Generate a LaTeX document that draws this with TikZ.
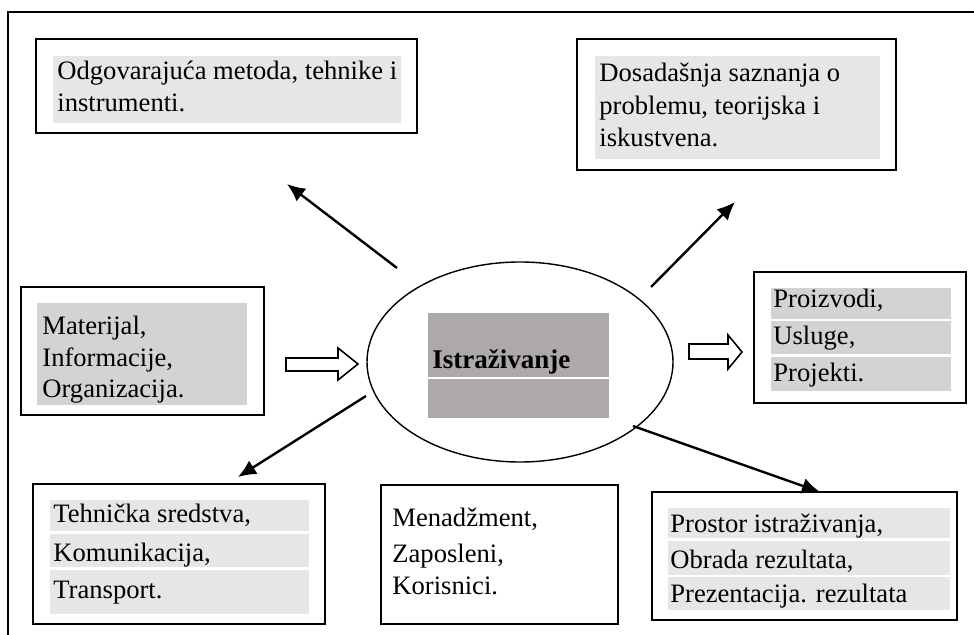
\documentclass[tikz,border=0pt]{standalone}
\usepackage{fontspec}
\setmainfont{Liberation Serif}
\usetikzlibrary{arrows.meta,fit,shapes.geometric}
\definecolor{lgray}{HTML}{E6E6E6}
\definecolor{mgray}{HTML}{D4D2D2}
\definecolor{dgray}{HTML}{ADA9A9}
\begin{document}
\begin{tikzpicture}[x=0.5pt,y=-0.5pt,
  font=\fontsize{13.3pt}{15pt}\selectfont,
  box/.style={draw, line width=1pt, inner sep=0pt},
  txt/.style={anchor=base west, inner sep=0pt},
  conn/.style={-{Latex[length=9pt,width=8pt]}, line width=1.2pt},
  hollow/.style={draw, line width=0.8pt, fill=white}]
\useasboundingbox (0,0) rectangle (974,635);
% frame
\draw[line width=1.1pt] (974,12) -- (8,12) -- (8,635);
% boxes
\node (b1) [box, fit={(36,39) (417,133)}] {};
\node (b2) [box, fit={(577,39) (896,170)}] {};
\node (b3) [box, fit={(21,287) (264,415)}] {};
\node (b4) [box, fit={(754,272) (966,403)}] {};
\node (b5) [box, fit={(33,484) (325,624)}] {};
\node (b6) [box, fit={(381,485) (618,624)}] {};
\node (b7) [box, fit={(652,492) (957,620)}] {};
% gray fills
\fill[lgray] (53,56) rectangle (401,123);
\fill[lgray] (595,56) rectangle (880,159);
\fill[mgray] (37,303) rectangle (247,405);
\fill[mgray] (771,288) rectangle (951,319);
\fill[mgray] (771,321) rectangle (951,354);
\fill[mgray] (771,357) rectangle (951,391);
\fill[lgray] (50,500) rectangle (309,531);
\fill[lgray] (50,534) rectangle (309,567);
\fill[lgray] (50,570) rectangle (309,614);
\fill[lgray] (668,508) rectangle (950,538);
\fill[lgray] (668,541) rectangle (950,575);
\fill[lgray] (668,577) rectangle (950,610);
\fill[dgray] (428,313) rectangle (609,377);
\fill[dgray] (428,379) rectangle (609,418);
% texts
\node (t1a) [txt] at (57,80) {Odgovarajuća metoda, tehnike i};
\node (t1b) [txt] at (57,112) {instrumenti.};
\node (t2a) [txt] at (599,82) {Dosadašnja saznanja o};
\node (t2b) [txt] at (599,115) {problemu, teorijska i};
\node (t2c) [txt] at (599,147) {iskustvena.};
\node (t3a) [txt] at (42,335) {Materijal,};
\node (t3b) [txt] at (42,367) {Informacije,};
\node (t3c) [txt] at (42,398) {Organizacija.};
\node (t4a) [txt] at (773,308) {Proizvodi,};
\node (t4b) [txt] at (773,345) {Usluge,};
\node (t4c) [txt] at (773,382) {Projekti.};
\node (t5a) [txt] at (53,523) {Tehnička sredstva,};
\node (t5b) [txt] at (53,561) {Komunikacija,};
\node (t5c) [txt] at (53,598) {Transport.};
\node (t6a) [txt] at (392,527) {Menadžment,};
\node (t6b) [txt] at (392,562) {Zaposleni,};
\node (t6c) [txt] at (392,595) {Korisnici.};
\node (t7a) [txt] at (670,532) {Prostor istraživanja,};
\node (t7b) [txt] at (670,568) {Obrada rezultata,};
\node (t7c) [txt] at (670,603) {Prezentacija. rezultata};
% center
\node (ell) [draw, ellipse, line width=0.7pt, inner sep=0pt,
  minimum width=153pt, minimum height=100pt] at (520,362) {};
\node (ist) [txt, font=\fontsize{13.5pt}{15pt}\selectfont\bfseries] at (432,369) {Istraživanje};
% hollow arrows
\draw[hollow] (286,358) -- (338,358) -- (338,348) -- (358,364) -- (338,380) -- (338,371) -- (286,371) -- cycle;
\draw[hollow] (689,344) -- (728,344) -- (728,335) -- (742,352) -- (728,369) -- (728,359) -- (689,359) -- cycle;
% arrows
\coordinate (s1) at (397,268); \coordinate (e1) at (287,184);
\coordinate (s2) at (651,287); \coordinate (e2) at (735,202);
\coordinate (s3) at (366,396); \coordinate (e3) at (238,477);
\coordinate (s4) at (633,426); \coordinate (e4) at (820,492);
\draw[conn] (s1) -- (e1);
\draw[conn] (s2) -- (e2);
\draw[conn] (s3) -- (e3);
\draw[conn] (s4) -- (e4);
\end{tikzpicture}
\end{document}
